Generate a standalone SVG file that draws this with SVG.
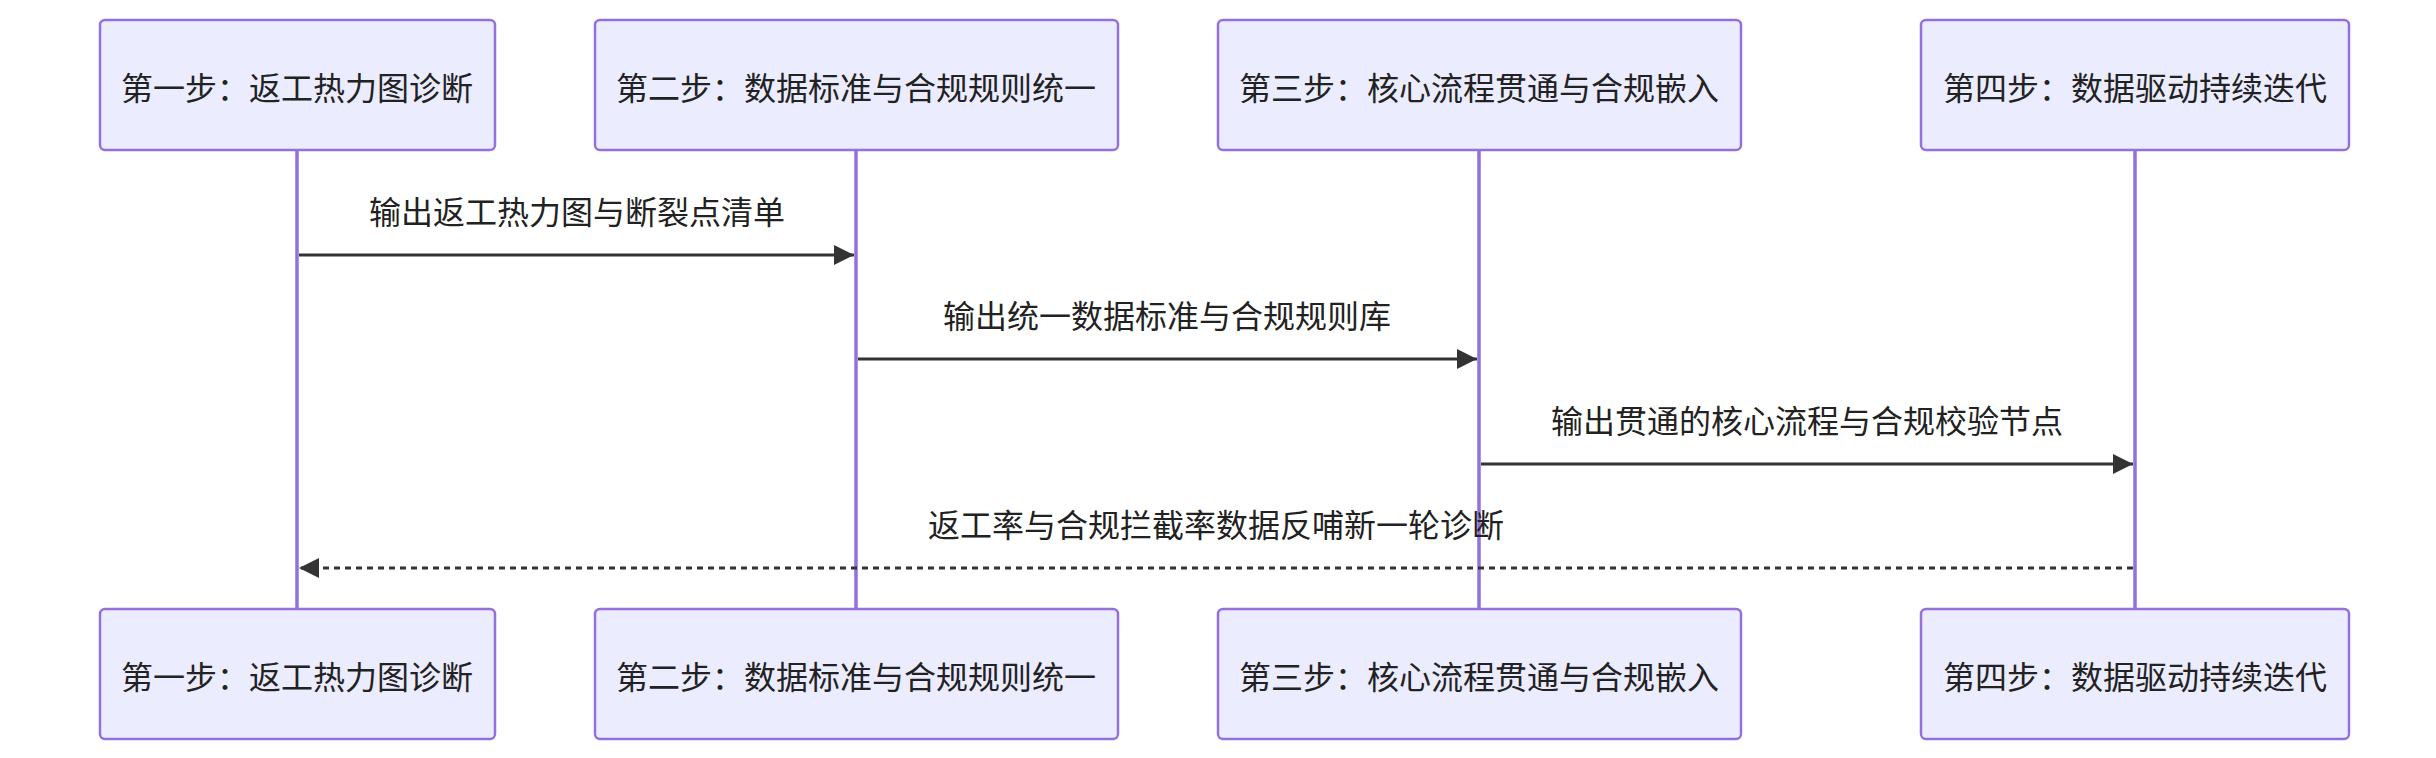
<svg xmlns="http://www.w3.org/2000/svg" width="2436" height="758" viewBox="0 0 2436 758">
<style>
.box{fill:#ECECFF;stroke:#9370DB;stroke-width:2.5}
.life{stroke:#9370DB;stroke-width:3.5}
.t{font-family:"Noto Sans CJK SC","Liberation Sans",sans-serif;font-size:32px;fill:#222;text-anchor:middle;dominant-baseline:central}
.m{stroke:#333;stroke-width:3;fill:none}
</style>
<defs>
<marker id="ah" viewBox="0 0 12 12" refX="12" refY="6" markerWidth="12" markerHeight="12" markerUnits="userSpaceOnUse" orient="auto"><path d="M0,0L12,6L0,12z" fill="#333"/></marker>
<marker id="ah2" viewBox="0 0 20 20" refX="20" refY="10" markerWidth="20" markerHeight="20" markerUnits="userSpaceOnUse" orient="auto"><path d="M0,0L20,10L0,20z" fill="#333"/></marker>
</defs>
<g id="lifelines">
<line class="life" x1="297" y1="150" x2="297" y2="609"/>
<line class="life" x1="856" y1="150" x2="856" y2="609"/>
<line class="life" x1="1479" y1="150" x2="1479" y2="609"/>
<line class="life" x1="2135" y1="150" x2="2135" y2="609"/>
</g>
<g id="p1"><rect class="box" x="100" y="20" width="395" height="130" rx="5"/><text class="t" x="297" y="86">第一步：返工热力图诊断</text></g>
<g id="p2"><rect class="box" x="595" y="20" width="523" height="130" rx="5"/><text class="t" x="856" y="86">第二步：数据标准与合规规则统一</text></g>
<g id="p3"><rect class="box" x="1218" y="20" width="523" height="130" rx="5"/><text class="t" x="1479" y="86">第三步：核心流程贯通与合规嵌入</text></g>
<g id="p4"><rect class="box" x="1921" y="20" width="428" height="130" rx="5"/><text class="t" x="2135" y="86">第四步：数据驱动持续迭代</text></g>
<g id="p1b"><rect class="box" x="100" y="609" width="395" height="130" rx="5"/><text class="t" x="297" y="675">第一步：返工热力图诊断</text></g>
<g id="p2b"><rect class="box" x="595" y="609" width="523" height="130" rx="5"/><text class="t" x="856" y="675">第二步：数据标准与合规规则统一</text></g>
<g id="p3b"><rect class="box" x="1218" y="609" width="523" height="130" rx="5"/><text class="t" x="1479" y="675">第三步：核心流程贯通与合规嵌入</text></g>
<g id="p4b"><rect class="box" x="1921" y="609" width="428" height="130" rx="5"/><text class="t" x="2135" y="675">第四步：数据驱动持续迭代</text></g>
<g id="connectors">
<line class="m" x1="299" y1="255" x2="854" y2="255" marker-end="url(#ah2)"/>
<text class="t" x="577" y="210">输出返工热力图与断裂点清单</text>
<line class="m" x1="858" y1="359" x2="1477" y2="359" marker-end="url(#ah2)"/>
<text class="t" x="1167" y="314">输出统一数据标准与合规规则库</text>
<line class="m" x1="1481" y1="464" x2="2133" y2="464" marker-end="url(#ah2)"/>
<text class="t" x="1807" y="419">输出贯通的核心流程与合规校验节点</text>
<line class="m" x1="2133" y1="568" x2="299" y2="568" stroke-dasharray="6,5" marker-end="url(#ah2)"/>
<text class="t" x="1216" y="523">返工率与合规拦截率数据反哺新一轮诊断</text>
</g>
</svg>
